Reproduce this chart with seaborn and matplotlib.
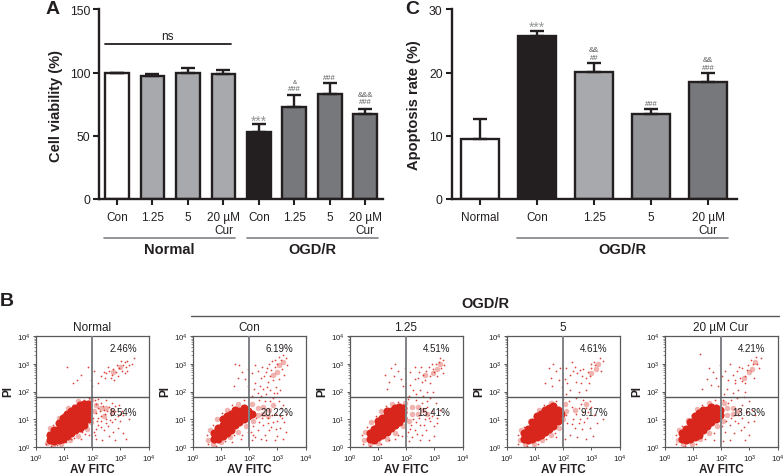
import matplotlib
matplotlib.use("Agg")
import matplotlib.pyplot as plt
from matplotlib.lines import Line2D
import pandas as pd
import seaborn as sns

W, H = 784, 477
DARK = '#231f20'
RED = '#d8261c'

# panel A
a_names = ['n_con', 'n_125', 'n_5', 'n_20', 'o_con', 'o_125', 'o_5', 'o_20']
a_labels = ['Con', '1.25', '5', '20 µM\nCur', 'Con', '1.25', '5', '20 µM\nCur']
a_values = [100, 97, 100, 99, 53, 73, 83, 67]
a_tops = [100, 98.5, 103.5, 102, 59.5, 82.5, 91.5, 71.5]
a_colors = ['white', '#a8a9ad', '#a8a9ad', '#a8a9ad', DARK, '#77787b', '#77787b', '#77787b']

# panel C
c_names = ['normal', 'con', 'c125', 'c5', 'c20']
c_labels = ['Normal', 'Con', '1.25', '5', '20 µM\nCur']
c_values = [9.5, 25.8, 20.1, 13.4, 18.5]
c_tops = [12.7, 26.5, 21.5, 14.3, 19.9]
c_colors = ['white', DARK, '#a8a9ad', '#939598', '#77787b']

# panel B, positions in decades
b_titles = ['Normal', 'Con', '1.25', '5', '20 µM Cur']
b_upper = ['2.46%', '6.19%', '4.51%', '4.61%', '4.21%']
b_lower = ['8.54%', '20.22%', '15.41%', '9.17%', '13.63%']

normal_core = [(0.5, 0.25), (0.5, 0.45), (0.65, 0.2), (0.65, 0.4), (0.65, 0.6), (0.8, 0.25), (0.8, 0.45), (0.8, 0.65), (0.8, 0.85),
               (0.95, 0.3), (0.95, 0.5), (0.95, 0.7), (0.95, 0.9), (0.95, 1.05), (1.1, 0.4), (1.1, 0.6), (1.1, 0.8), (1.1, 1.0),
               (1.1, 1.2), (1.25, 0.5), (1.25, 0.7), (1.25, 0.9), (1.25, 1.1), (1.25, 1.3), (1.4, 0.6), (1.4, 0.8), (1.4, 1.0),
               (1.4, 1.2), (1.4, 1.4), (1.55, 0.7), (1.55, 0.9), (1.55, 1.1), (1.55, 1.3), (1.55, 1.5), (1.7, 0.8), (1.7, 1.0),
               (1.7, 1.2), (1.7, 1.4), (1.7, 1.55), (1.85, 1.0), (1.85, 1.2), (1.85, 1.4), (1.85, 1.55)]
normal_halo = [(0.4, 0.15), (0.6, 0.08), (0.9, 0.12), (1.2, 0.25), (1.5, 0.4), (1.8, 0.65), (1.95, 0.9), (2.05, 1.3), (2.15, 1.5), (2.3, 1.4),
               (2.5, 1.4), (2.7, 1.25), (1.95, 1.68), (1.5, 1.65), (1.15, 1.4), (0.8, 1.05), (0.5, 0.68), (2.4, 1.1), (3.0, 2.9), (2.75, 2.7)]
normal_dots = [(2.4, 2.7), (2.5, 2.65), (2.6, 2.75), (2.7, 2.6), (2.75, 2.8), (2.85, 2.7), (2.9, 2.55), (2.95, 2.85), (3.05, 2.75), (3.1, 2.95),
               (3.15, 3.05), (3.2, 2.9), (3.25, 3.1), (3.3, 2.95), (3.4, 3.0), (3.15, 2.65), (2.65, 2.5), (2.3, 2.55), (2.55, 2.9), (3.5, 3.2),
               (2.2, 2.3), (2.05, 2.75), (1.95, 2.4), (1.1, 2.9), (1.6, 2.6), (1.45, 2.4), (1.3, 2.3), (1.85, 2.9), (2.0, 2.2), (2.1, 1.7),
               (2.3, 1.6), (2.5, 1.7), (2.2, 1.4), (2.4, 1.35), (2.6, 1.45), (2.8, 1.3), (2.9, 1.1), (3.1, 1.15), (2.3, 1.1), (2.5, 1.0),
               (2.7, 0.9), (2.9, 0.7), (3.1, 0.5), (3.2, 0.3), (2.2, 0.8), (2.4, 0.6), (2.6, 0.4), (2.15, 0.3), (2.05, 0.55), (2.35, 0.25),
               (2.8, 0.25), (3.0, 0.95), (3.3, 1.0), (2.7, 1.6), (2.95, 1.5), (3.05, 1.3), (2.2, 1.05), (2.45, 1.2), (2.65, 1.15), (2.15, 1.55),
               (2.55, 0.75), (2.75, 0.55), (1.6, 0.3), (1.9, 0.45), (2.12, 1.22), (2.28, 1.28), (2.38, 1.48), (2.52, 1.28), (2.68, 1.38), (2.82, 1.48),
               (2.18, 0.95), (2.32, 0.92), (2.48, 0.88), (2.62, 0.98), (2.82, 1.02), (2.12, 0.65), (2.32, 0.72), (2.02, 1.05), (2.08, 0.42), (2.98, 1.2),
               (0.35, 0.1), (0.55, 0.05), (0.75, 0.08), (1.05, 0.18), (1.35, 0.32), (1.65, 0.55), (0.42, 0.55), (0.62, 0.8), (0.95, 1.2), (1.3, 1.5),
               (1.7, 1.7), (1.9, 1.78), (2.2, 1.72), (1.25, 0.28), (1.75, 0.48), (2.88, 2.95), (3.02, 3.1), (2.45, 2.48), (2.78, 2.42), (3.25, 2.75)]

con_core = [(0.75, 0.3), (0.75, 0.5), (0.9, 0.3), (0.9, 0.5), (0.9, 0.7), (1.05, 0.4), (1.05, 0.6), (1.05, 0.8), (1.05, 1.0), (1.2, 0.5),
            (1.2, 0.7), (1.2, 0.9), (1.2, 1.1), (1.35, 0.6), (1.35, 0.8), (1.35, 1.0), (1.35, 1.2), (1.5, 0.8), (1.5, 1.0), (1.5, 1.2),
            (1.5, 1.35), (1.65, 0.9), (1.65, 1.1), (1.65, 1.3), (1.8, 1.0), (1.8, 1.2), (1.8, 1.4), (1.95, 1.1), (1.95, 1.3), (2.1, 1.2)]
con_halo = [(0.55, 0.25), (0.7, 0.12), (1.0, 0.18), (1.3, 0.35), (1.6, 0.55), (1.9, 0.75), (2.15, 0.95), (2.3, 1.15), (2.3, 1.4), (2.5, 1.2),
            (2.5, 1.45), (2.7, 1.35), (2.85, 1.5), (2.1, 1.55), (1.6, 1.55), (1.2, 1.35), (0.85, 1.0), (0.6, 0.6), (3.05, 2.95), (3.0, 2.7),
            (3.2, 3.05), (2.85, 2.6), (2.65, 1.1)]
con_dots = [(2.2, 2.95), (2.45, 2.9), (2.6, 2.7), (2.7, 3.0), (2.8, 3.1), (2.9, 3.15), (3.05, 3.25), (3.2, 3.3), (3.3, 3.2), (3.35, 2.95),
            (3.25, 2.6), (3.05, 2.45), (2.85, 2.4), (2.65, 2.35), (2.4, 2.5), (2.2, 2.3), (2.1, 2.65), (2.3, 2.75), (1.5, 3.0), (1.65, 2.95),
            (1.75, 2.7), (1.6, 2.5), (1.85, 2.45), (1.95, 2.2), (1.45, 2.2), (1.95, 2.8), (2.5, 2.1), (2.75, 2.05), (2.95, 2.15), (3.0, 1.95),
            (2.6, 1.9), (2.3, 1.95), (2.1, 1.85), (2.85, 1.75), (3.05, 1.65), (3.2, 1.5), (3.3, 1.2), (3.25, 0.9), (3.1, 0.7), (3.0, 0.4),
            (2.85, 0.9), (2.7, 0.6), (2.9, 0.25), (2.5, 0.8), (2.55, 0.45), (2.3, 0.6), (2.2, 0.35), (2.05, 0.55), (2.35, 0.9), (2.1, 0.25),
            (3.15, 1.05), (3.2, 0.3), (2.65, 1.05), (2.45, 1.05), (1.7, 0.3), (3.1, 2.05), (2.55, 1.65), (2.35, 1.7), (2.75, 1.65), (2.95, 1.2),
            (2.8, 1.15), (3.0, 0.95), (2.6, 0.25), (3.3, 0.55), (2.62, 2.85), (2.78, 2.78), (2.92, 2.88), (3.12, 3.12), (2.72, 2.55), (2.52, 2.55),
            (2.38, 2.2), (2.62, 2.18), (2.88, 1.95), (2.18, 2.1), (2.42, 1.85), (2.15, 0.75), (2.25, 1.05), (2.12, 0.45), (2.42, 0.3), (2.78, 0.72),
            (2.68, 0.85), (2.95, 0.65), (3.08, 1.1), (3.12, 1.4), (0.52, 0.12), (0.8, 0.05), (1.15, 0.2), (1.45, 0.42), (0.48, 0.45), (0.72, 0.8),
            (1.02, 1.22), (1.4, 1.5), (1.82, 1.7), (1.75, 0.45), (1.4, 0.18), (1.95, 0.55), (3.18, 2.8), (2.98, 3.0)]

lr_core = [(0.7, 0.3), (0.7, 0.5), (0.85, 0.25), (0.85, 0.45), (0.85, 0.65), (1.0, 0.35), (1.0, 0.55), (1.0, 0.75), (1.0, 0.95), (1.15, 0.45),
           (1.15, 0.65), (1.15, 0.85), (1.15, 1.05), (1.3, 0.55), (1.3, 0.75), (1.3, 0.95), (1.3, 1.15), (1.3, 1.3), (1.45, 0.7), (1.45, 0.9),
           (1.45, 1.1), (1.45, 1.3), (1.6, 0.8), (1.6, 1.0), (1.6, 1.2), (1.6, 1.4), (1.75, 0.9), (1.75, 1.1), (1.75, 1.3), (1.75, 1.45),
           (1.9, 1.05), (1.9, 1.25), (1.9, 1.42)]
lr_halo = [(0.5, 0.25), (0.7, 0.12), (1.0, 0.15), (1.3, 0.3), (1.6, 0.5), (1.9, 0.75), (2.1, 0.95), (2.2, 1.2), (2.2, 1.45), (2.4, 1.2),
           (2.4, 1.45), (2.6, 1.35), (2.75, 1.2), (1.95, 1.6), (1.5, 1.55), (1.1, 1.3), (0.75, 0.9), (0.55, 0.55), (3.2, 3.0), (3.1, 2.8),
           (2.95, 2.65), (2.65, 2.6)]
lr_dots = [(2.3, 2.9), (2.45, 2.7), (2.6, 2.6), (2.7, 2.75), (2.85, 2.55), (2.95, 2.8), (3.05, 3.0), (3.2, 3.2), (3.3, 3.15), (3.35, 2.95),
           (3.1, 2.55), (2.85, 2.3), (2.55, 2.35), (2.3, 2.45), (2.15, 2.25), (2.15, 2.7), (1.6, 3.0), (1.7, 2.75), (1.55, 2.55), (1.8, 2.45),
           (1.9, 2.2), (1.4, 2.35), (1.95, 2.85), (1.25, 2.6), (2.5, 2.05), (2.75, 2.0), (2.95, 2.0), (2.6, 1.85), (2.35, 1.9), (2.1, 1.85),
           (2.85, 1.75), (3.05, 1.6), (3.2, 1.35), (3.1, 1.05), (3.0, 0.75), (3.0, 0.4), (2.85, 0.95), (2.7, 0.6), (2.8, 0.25), (2.5, 0.8),
           (2.55, 0.45), (2.3, 0.6), (2.2, 0.35), (2.05, 0.55), (2.35, 0.9), (2.1, 0.2), (2.65, 1.0), (2.45, 1.05), (1.6, 0.3), (1.85, 0.4),
           (2.75, 1.45), (2.9, 1.3), (2.55, 1.6), (2.35, 1.7), (2.75, 1.65), (3.3, 2.65), (2.52, 2.88), (2.8, 2.88), (2.42, 2.5), (2.68, 2.42),
           (1.45, 2.85), (1.32, 2.1), (2.25, 2.05), (2.18, 0.8), (2.25, 1.0), (2.38, 0.48), (2.62, 0.78), (2.92, 1.1), (3.08, 0.85), (2.48, 0.25),
           (0.45, 0.12), (0.72, 0.05), (1.1, 0.12), (1.4, 0.25), (1.72, 0.42), (0.42, 0.42), (0.6, 0.72), (0.92, 1.1), (1.28, 1.48), (1.7, 1.62),
           (2.05, 1.72), (2.0, 0.4), (2.12, 0.65), (3.15, 3.05), (3.0, 2.72), (2.9, 3.0), (3.25, 2.85), (2.82, 1.05)]

five_core = [(0.6, 0.3), (0.6, 0.5), (0.75, 0.25), (0.75, 0.45), (0.75, 0.65), (0.9, 0.3), (0.9, 0.5), (0.9, 0.7), (0.9, 0.9), (1.05, 0.35),
             (1.05, 0.55), (1.05, 0.75), (1.05, 0.95), (1.05, 1.1), (1.2, 0.45), (1.2, 0.65), (1.2, 0.85), (1.2, 1.05), (1.2, 1.2), (1.35, 0.55),
             (1.35, 0.75), (1.35, 0.95), (1.35, 1.15), (1.35, 1.35), (1.5, 0.65), (1.5, 0.85), (1.5, 1.05), (1.5, 1.25), (1.5, 1.42), (1.65, 0.75),
             (1.65, 0.95), (1.65, 1.15), (1.65, 1.35), (1.65, 1.48), (1.8, 0.95), (1.8, 1.15), (1.8, 1.35), (1.92, 1.2)]
five_halo = [(0.45, 0.25), (0.65, 0.1), (0.95, 0.12), (1.25, 0.25), (1.55, 0.45), (1.85, 0.7), (2.0, 1.0), (2.1, 1.3), (2.05, 1.55), (1.55, 1.6),
             (1.15, 1.35), (0.8, 0.95), (0.5, 0.6), (3.25, 3.0), (3.15, 2.8), (3.0, 2.65), (2.4, 1.35), (2.8, 1.55)]
five_dots = [(2.4, 2.9), (2.5, 2.65), (2.65, 2.55), (2.8, 2.5), (2.95, 2.55), (3.0, 2.85), (3.1, 3.05), (3.3, 3.2), (3.4, 3.1), (3.35, 2.75),
             (2.7, 2.8), (2.45, 2.35), (2.25, 2.6), (2.15, 2.3), (2.1, 2.85), (2.3, 3.05), (1.65, 3.0), (1.75, 2.75), (1.55, 2.5), (1.85, 2.4),
             (1.95, 2.15), (1.35, 2.3), (1.9, 2.85), (2.55, 2.0), (2.25, 2.05), (2.8, 2.05), (2.1, 1.9), (2.45, 1.75), (2.7, 1.7), (2.95, 1.65),
             (3.0, 1.45), (2.8, 1.4), (2.55, 1.4), (2.3, 1.45), (3.1, 1.15), (2.85, 1.05), (2.6, 1.0), (2.35, 1.0), (2.15, 0.85), (2.4, 0.7),
             (2.65, 0.65), (2.95, 0.7), (3.2, 0.85), (2.25, 0.45), (2.5, 0.35), (2.8, 0.3), (3.05, 0.4), (2.05, 0.3), (1.75, 0.35), (2.2, 1.65),
             (2.1, 1.15), (2.45, 1.2), (2.7, 1.25), (3.4, 1.0), (2.58, 2.78), (2.88, 2.72), (2.62, 2.3), (2.9, 2.3), (1.48, 2.85), (1.6, 2.2),
             (2.05, 2.45), (2.35, 2.75), (2.62, 1.55), (2.88, 1.25), (2.55, 0.85), (2.75, 0.9), (2.32, 0.82), (0.4, 0.12), (0.7, 0.05), (1.1, 0.12),
             (1.4, 0.28), (1.7, 0.5), (0.4, 0.45), (0.6, 0.72), (0.95, 1.12), (1.3, 1.5), (1.75, 1.65), (2.0, 1.72), (3.12, 2.95), (2.98, 3.0)]

twenty_core = [(0.6, 0.3), (0.6, 0.5), (0.75, 0.25), (0.75, 0.45), (0.75, 0.65), (0.9, 0.3), (0.9, 0.5), (0.9, 0.7), (0.9, 0.9), (1.05, 0.35),
               (1.05, 0.55), (1.05, 0.75), (1.05, 0.95), (1.05, 1.1), (1.2, 0.45), (1.2, 0.65), (1.2, 0.85), (1.2, 1.05), (1.2, 1.22), (1.35, 0.6),
               (1.35, 0.8), (1.35, 1.0), (1.35, 1.2), (1.35, 1.35), (1.5, 0.75), (1.5, 0.95), (1.5, 1.15), (1.5, 1.35), (1.65, 0.9), (1.65, 1.1),
               (1.65, 1.3), (1.65, 1.45), (1.8, 1.0), (1.8, 1.2), (1.8, 1.4), (1.95, 1.15), (1.95, 1.35)]
twenty_halo = [(0.45, 0.25), (0.65, 0.1), (0.95, 0.12), (1.25, 0.28), (1.55, 0.5), (1.85, 0.75), (2.05, 0.95), (2.2, 1.15), (2.2, 1.4), (2.4, 1.2),
               (2.4, 1.42), (2.6, 1.3), (2.1, 1.6), (1.55, 1.58), (1.15, 1.38), (0.8, 0.98), (0.5, 0.6), (3.2, 3.05), (3.1, 2.8), (3.0, 2.7), (2.8, 2.5)]
twenty_dots = [(2.4, 2.6), (2.55, 2.75), (2.65, 2.5), (2.75, 2.85), (2.85, 2.55), (2.95, 2.95), (3.05, 3.15), (3.25, 3.25), (3.4, 3.2), (3.35, 2.85),
               (3.15, 2.5), (2.85, 2.3), (2.5, 2.3), (2.25, 2.4), (2.15, 2.75), (2.3, 3.0), (1.25, 3.35), (1.55, 2.85), (1.7, 2.7), (1.5, 2.45),
               (1.8, 2.5), (1.9, 2.2), (1.3, 2.1), (1.95, 2.95), (2.6, 2.05), (2.85, 2.0), (2.4, 1.95), (2.1, 1.9), (2.55, 1.75), (2.8, 1.8),
               (3.0, 1.65), (3.1, 1.35), (2.9, 1.25), (2.75, 1.05), (2.95, 0.9), (2.5, 0.95), (2.3, 0.8), (2.15, 0.55), (2.45, 0.5), (2.7, 0.6),
               (3.0, 0.45), (2.85, 0.25), (2.3, 0.25), (2.05, 0.2), (1.75, 0.25), (3.15, 0.95), (2.6, 1.15), (2.35, 1.05), (2.75, 1.5), (2.35, 1.7),
               (2.05, 1.7), (3.2, 1.15), (2.62, 2.88), (2.48, 2.42), (2.72, 2.38), (2.02, 2.55), (2.2, 2.1), (1.62, 2.25), (2.6, 0.85), (2.82, 0.72),
               (2.18, 0.92), (2.02, 0.75), (0.4, 0.1), (0.7, 0.05), (1.1, 0.12), (1.42, 0.3), (1.75, 0.52), (0.4, 0.45), (0.6, 0.75), (0.95, 1.15),
               (1.3, 1.5), (1.78, 1.68), (2.25, 1.6), (3.12, 3.0), (2.9, 2.78), (3.28, 3.0)]

b_core = [normal_core, con_core, lr_core, five_core, twenty_core]
b_halo = [normal_halo, con_halo, lr_halo, five_halo, twenty_halo]
b_dots = [normal_dots, con_dots, lr_dots, five_dots, twenty_dots]


def px_axes(fig, left, top, right, bottom):
    return fig.add_axes([left / W, 1 - bottom / H, (right - left) / W, (bottom - top) / H])


def hline(fig, x0, x1, y, color, lw):
    fig.add_artist(Line2D([x0 / W, x1 / W], [1 - y / H, 1 - y / H], color=color, lw=lw))


def label(fig, x, y, text, **kw):
    fig.text(x / W, 1 - y / H, text, ha='center', va='center', **kw)


def bars(ax, names, labels, values, tops, colors, ymax, step):
    df = pd.DataFrame({'name': names, 'value': values})
    sns.barplot(df, x='name', y='value', hue='name', palette=colors, legend=False, ax=ax,
                width=0.67, edgecolor=DARK, linewidth=1.7, saturation=1)
    x = list(range(len(names)))
    errs = [t - v for t, v in zip(tops, values)]
    ax.errorbar(x, values, yerr=[[0] * len(x), errs], fmt='none', ecolor=DARK, elinewidth=1.7,
                capsize=5, capthick=1.7, zorder=5)
    ax.set_xlim(-0.5, len(names) - 0.5)
    ax.set_ylim(0, ymax)
    ax.set_yticks(range(0, ymax + 1, step))
    ax.set_xticks(x)
    ax.set_xticklabels(labels, fontsize=8.5, color=DARK, linespacing=1.15)
    ax.set_xlabel('')
    ax.set_ylabel('')
    ax.tick_params(axis='both', width=1.5, length=4.5, color=DARK, labelcolor=DARK)
    ax.tick_params(axis='y', labelsize=8.8, pad=2)
    ax.tick_params(axis='x', pad=4)
    sns.despine(ax=ax)
    for side in ('left', 'bottom'):
        ax.spines[side].set_linewidth(1.7)
        ax.spines[side].set_color(DARK)


def marks(ax, x, y, text, size=5.5, color='#58595b'):
    ax.text(x, y, text, ha='center', va='center', fontsize=size, color=color)


sns.set_theme(style='ticks')
plt.rcParams['font.family'] = ['Liberation Sans', 'DejaVu Sans']
plt.rcParams['mathtext.default'] = 'regular'

fig = plt.figure(figsize=(W / 100, H / 100), dpi=100)

# A
ax_a = px_axes(fig, 99.3, 10.3, 383, 200)
bars(ax_a, a_names, a_labels, a_values, a_tops, a_colors, 150, 50)
ax_a.plot([-0.35, 3.2], [122.5, 122.5], color=DARK, lw=1.3)
ax_a.text(1.42, 128.5, 'ns', ha='center', va='center', fontsize=8.5, color=DARK)
marks(ax_a, 4, 62, '***', size=10, color='#939598')
marks(ax_a, 5, 93, '&', size=4.5)
marks(ax_a, 5, 87, '###')
marks(ax_a, 6, 96, '###')
marks(ax_a, 7, 83, '&&&')
marks(ax_a, 7, 77, '###')
label(fig, 56, 106, 'Cell viability (%)', rotation=90, fontsize=10.5, fontweight='bold', color=DARK)
hline(fig, 104, 235, 238.7, '#808285', 1.2)
hline(fig, 247, 378, 238.7, '#808285', 1.2)
label(fig, 169, 250, 'Normal', fontsize=10.5, fontweight='bold', color=DARK)
label(fig, 312, 250, 'OGD/R', fontsize=10.5, fontweight='bold', color=DARK)

# C
ax_c = px_axes(fig, 451.7, 10.3, 736.7, 200)
bars(ax_c, c_names, c_labels, c_values, c_tops, c_colors, 30, 10)
marks(ax_c, 1, 27.3, '***', size=10, color='#939598')
marks(ax_c, 2, 23.7, '&&')
marks(ax_c, 2, 22.4, '##')
marks(ax_c, 3, 15.1, '###')
marks(ax_c, 4, 22.1, '&&')
marks(ax_c, 4, 20.8, '###')
label(fig, 414, 105, 'Apoptosis rate (%)', rotation=90, fontsize=10.5, fontweight='bold', color=DARK)
hline(fig, 517, 728, 238.7, '#808285', 1.2)
label(fig, 622.7, 250, 'OGD/R', fontsize=10.5, fontweight='bold', color=DARK)

# B
lefts = [36, 193, 350, 507, 665]
for i, left in enumerate(lefts):
    ax = px_axes(fig, left, 337, left + 112.5, 448)
    for pts, size, alpha in ((b_halo[i], 16, 0.35), (b_core[i], 34, 1.0), (b_dots[i], 1.6, 0.85)):
        df = pd.DataFrame({'x': [10 ** p[0] for p in pts], 'y': [10 ** p[1] for p in pts]})
        sns.scatterplot(df, x='x', y='y', ax=ax, color=RED, s=size, alpha=alpha, linewidth=0, zorder=2)
    ax.set_xscale('log')
    ax.set_yscale('log')
    ax.set_xlim(1, 1e4)
    ax.set_ylim(1, 1e4)
    ax.axvline(100, color='#808285', lw=1.4, zorder=3)
    ax.axhline(63, color='#58595b', lw=1.0, zorder=3)
    ax.set_xlabel('')
    ax.set_ylabel('')
    ax.set_xticks([1, 10, 100, 1000, 10000])
    ax.set_yticks([1, 10, 100, 1000, 10000])
    ax.tick_params(axis='both', which='major', labelsize=5.6, length=2.5, width=0.6, pad=1.5,
                   color='#414042', labelcolor=DARK)
    ax.tick_params(axis='both', which='minor', length=1.3, width=0.4, color='#414042')
    for s in ax.spines.values():
        s.set_color('#58595b')
        s.set_linewidth(0.9)
    ax.text(0.895, 0.89, b_upper[i], transform=ax.transAxes, ha='right', va='center', fontsize=7, color=DARK, zorder=6)
    ax.text(0.895, 0.315, b_lower[i], transform=ax.transAxes, ha='right', va='center', fontsize=7, color=DARK, zorder=6)
    label(fig, left + 56, 328, b_titles[i], fontsize=8.5, color=DARK)
    label(fig, left - 28, 392, 'PI', rotation=90, fontsize=8.5, fontweight='bold', color=DARK)
    label(fig, left + 56, 470.5, 'AV FITC', fontsize=8.5, fontweight='bold', color=DARK)

hline(fig, 191, 779, 316.7, '#58595b', 1.0)
label(fig, 485, 304, 'OGD/R', fontsize=10.5, fontweight='bold', color=DARK)

label(fig, 53, 9, 'A', fontsize=14, fontweight='bold', color=DARK)
label(fig, 412, 10, 'C', fontsize=14, fontweight='bold', color=DARK)
label(fig, 7, 302, 'B', fontsize=14, fontweight='bold', color=DARK)

fig.savefig('out.png', dpi=100)
